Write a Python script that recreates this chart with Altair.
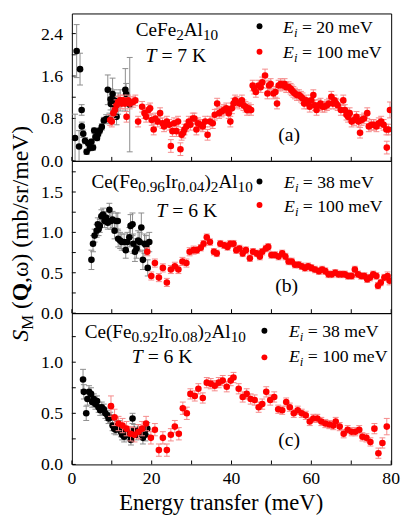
import altair as alt
import pandas as pd

FONT = "Liberation Serif"

# ---------------- data: (energy transfer meV, S_M, error) ----------------
A_E20 = [(0.8,0.43,0.45),(1.2,2.07,0.5),(1.8,0.27,0.3),(2.05,1.73,0.3),(2.45,0.96,0.1),
         (2.5,0.65,0.08),(2.85,0.51,0.07),(3.3,0.38,0.06),(3.7,0.17,0.05),(4.1,0.33,0.05),
         (4.5,0.24,0.05),(4.9,0.36,0.05),(5.3,0.25,0.05),(5.6,0.57,0.05),(5.9,0.45,0.05),
         (6.3,0.43,0.05),(6.6,0.51,0.05),(7.0,0.57,0.05),(7.5,0.64,0.06),(8.0,0.76,0.06),
         (8.6,0.79,0.08),(9.0,1.34,0.28),(9.4,0.80,0.1),(9.7,1.16,0.2),(9.8,1.07,0.25),
         (10.2,1.26,0.3),(10.6,1.14,0.2),(10.8,1.02,0.2),(11.2,0.83,0.15),(11.6,1.08,0.2),
         (12.1,1.14,0.2),(13.4,1.34,0.4),(13.6,1.26,0.2),(14.5,1.06,0.89)]

A_E100 = [(9.6,0.77,0.1),(10.0,0.74,0.1),(10.4,0.90,0.1),(10.8,0.96,0.1),(11.2,1.05,0.1),
          (11.6,1.11,0.1),(12.1,1.14,0.1),(12.5,1.08,0.1),(12.9,1.14,0.1),(13.3,1.08,0.1),
          (13.7,0.83,0.1),(14.1,1.14,0.1),(14.5,1.08,0.1),(15.3,1.11,0.1),(15.9,1.14,0.1),
          (16.6,0.74,0.1),(17.6,1.02,0.1),(18.2,0.90,0.1),(18.6,0.83,0.1),(19.2,0.96,0.1),
          (19.6,0.99,0.1),(20.0,0.77,0.1),(20.5,0.59,0.1),(20.9,0.80,0.1),(21.5,0.74,0.1),
          (22.1,0.90,0.1),(22.7,0.71,0.1),(23.1,0.65,0.1),(23.8,0.74,0.1),(24.4,0.68,0.1),
          (24.8,0.28,0.12),(25.2,0.56,0.1),(25.6,0.71,0.1),(26.2,0.56,0.1),(26.6,0.74,0.1),
          (27.2,0.22,0.12),(27.5,0.49,0.1),(27.9,0.53,0.1),(28.2,0.59,0.1),(28.7,0.65,0.1),
          (29.3,0.74,0.1),(29.7,0.68,0.1),(30.3,0.80,0.1),(30.7,0.80,0.1),(31.2,0.59,0.1),
          (31.6,0.71,0.1),(32.2,0.68,0.1),(32.8,0.65,0.1),(33.4,0.74,0.1),(34.0,0.49,0.1),
          (34.6,0.74,0.1),(35.3,0.71,0.1),(35.8,0.87,0.1),(36.4,1.08,0.1),(36.9,0.90,0.1),
          (37.5,0.93,0.1),(38.1,0.96,0.1),(38.7,0.99,0.1),(39.3,0.90,0.1),(39.7,0.74,0.1),
          (40.1,0.99,0.1),(40.5,1.08,0.1),(40.9,1.14,0.1),(41.3,1.11,0.1),(42.0,1.08,0.1),
          (42.6,1.14,0.1),(43.0,1.05,0.1),(43.5,1.02,0.1),(43.9,0.96,0.1),(44.3,0.99,0.1),
          (44.9,0.96,0.1),(45.3,1.42,0.1),(45.7,1.36,0.1),(46.1,1.30,0.1),(46.8,1.42,0.1),
          (47.3,1.39,0.1),(47.7,1.48,0.1),(48.4,1.61,0.12),(49.0,1.27,0.1),(49.4,1.42,0.1),
          (49.8,1.45,0.1),(50.5,1.27,0.1),(51.0,1.30,0.1),(51.4,1.08,0.1),(51.8,1.42,0.1),
          (52.3,1.45,0.1),(52.8,1.42,0.1),(53.3,1.45,0.1),(53.7,1.39,0.1),(54.3,1.39,0.1),
          (54.8,1.36,0.1),(55.1,1.33,0.1),(55.5,1.30,0.1),(55.9,1.27,0.1),(56.4,1.24,0.1),
          (56.9,1.24,0.1),(57.4,1.21,0.1),(57.8,1.18,0.1),(58.2,1.08,0.1),(58.7,1.14,0.1),
          (59.2,1.08,0.1),(59.6,1.02,0.1),(60.0,1.14,0.1),(60.5,1.24,0.1),(60.9,1.05,0.1),
          (61.3,0.96,0.1),(61.9,1.05,0.1),(62.3,1.08,0.1),(62.8,1.02,0.1),(63.3,1.02,0.1),
          (63.9,1.05,0.1),(64.4,1.08,0.1),(65.0,1.21,0.1),(65.4,1.08,0.1),(65.8,1.14,0.1),
          (66.2,1.08,0.1),(66.6,1.05,0.1),(67.4,0.96,0.1),(68.0,1.14,0.1),(68.4,0.96,0.1),
          (68.8,0.87,0.1),(69.2,0.83,0.1),(69.6,0.90,0.1),(70.1,0.74,0.1),(70.7,0.77,0.1),
          (71.3,0.83,0.1),(71.8,0.74,0.1),(72.2,0.53,0.1),(72.6,0.77,0.1),(73.2,0.80,0.1),
          (74.0,0.90,0.1),(74.4,0.65,0.1),(75.1,0.68,0.1),(75.6,0.68,0.1),(76.3,0.65,0.1),
          (76.9,0.71,0.1),(77.5,0.74,0.1),(78.1,0.68,0.1),(78.8,0.59,0.1),(78.9,0.25,0.12),
          (79.3,0.59,0.1),(79.7,0.96,0.15)]

B_E38 = [(4.9,0.66,0.12),(5.3,0.86,0.1),(5.7,0.96,0.08),(6.2,1.02,0.08),(6.5,1.10,0.08),
         (6.7,1.04,0.08),(7.0,1.08,0.08),(7.4,1.20,0.08),(7.8,1.22,0.08),(8.2,1.14,0.08),
         (8.6,1.18,0.08),(9.0,1.12,0.08),(9.4,1.28,0.08),(9.8,1.14,0.1),(10.2,1.16,0.1),
         (10.7,1.02,0.1),(11.1,1.14,0.1),(11.5,1.14,0.1),(11.6,0.92,0.1),(12.1,0.90,0.1),
         (12.5,0.88,0.1),(13.1,0.88,0.1),(13.5,0.78,0.1),(13.9,0.88,0.12),(14.4,0.94,0.12),
         (14.7,1.08,0.14),(15.2,1.10,0.14),(15.4,0.86,0.12),(15.8,0.76,0.12),(16.2,0.80,0.12),
         (16.6,0.90,0.12),(17.0,0.88,0.12),(17.4,1.06,0.18),(17.8,0.66,0.12),(18.2,0.86,0.12),
         (18.6,0.84,0.12),(19.0,0.56,0.1),(19.4,0.88,0.12)]

B_E100 = [(18.9,0.76,0.05),(19.9,0.46,0.05),(20.8,0.62,0.05),(21.8,0.44,0.05),(22.8,0.56,0.05),
          (23.8,0.38,0.05),(24.8,0.54,0.05),(25.8,0.58,0.05),(26.7,0.54,0.05),(27.7,0.64,0.05),
          (28.7,0.62,0.05),(29.5,0.76,0.05),(30.5,0.78,0.05),(31.3,0.78,0.04),(32.3,0.81,0.04),
          (33.0,0.86,0.04),(33.8,0.94,0.04),(34.6,0.88,0.04),(35.6,0.76,0.04),(36.3,0.74,0.04),
          (37.2,0.86,0.04),(38.2,0.84,0.04),(39.0,0.82,0.04),(39.7,0.86,0.04),(40.5,0.86,0.04),
          (41.2,0.78,0.04),(42.0,0.80,0.04),(42.8,0.74,0.04),(43.6,0.78,0.04),(44.6,0.68,0.04),
          (45.4,0.76,0.04),(46.3,0.74,0.04),(47.1,0.70,0.04),(47.7,0.76,0.04),(48.6,0.80,0.04),
          (49.2,0.82,0.04),(50.0,0.72,0.04),(50.9,0.72,0.04),(51.8,0.70,0.04),(52.7,0.74,0.04),
          (53.5,0.70,0.04),(54.3,0.64,0.04),(55.1,0.64,0.04),(55.9,0.60,0.04),(56.8,0.60,0.04),
          (57.6,0.58,0.04),(58.4,0.56,0.04),(59.2,0.58,0.04),(60.0,0.56,0.04),(60.9,0.54,0.04),
          (61.9,0.52,0.04),(62.7,0.54,0.04),(63.5,0.52,0.04),(64.3,0.48,0.04),(65.1,0.48,0.04),
          (66.0,0.50,0.04),(66.8,0.48,0.04),(67.6,0.48,0.04),(68.4,0.48,0.04),(69.2,0.46,0.04),
          (70.1,0.46,0.04),(70.9,0.54,0.04),(71.7,0.48,0.04),(72.5,0.46,0.04),(73.3,0.46,0.04),
          (74.0,0.42,0.04),(74.7,0.44,0.04),(75.5,0.48,0.04),(76.3,0.46,0.04),(76.7,0.34,0.04),
          (77.4,0.38,0.04),(78.3,0.44,0.04),(79.1,0.46,0.05),(79.6,0.40,0.05)]

C_E38 = [(2.8,0.83,0.1),(3.0,0.71,0.07),(3.6,0.50,0.07),(3.9,0.64,0.06),(4.3,0.71,0.06),
         (4.8,0.69,0.06),(5.1,0.61,0.05),(5.5,0.64,0.05),(5.9,0.59,0.05),(6.3,0.62,0.05),
         (6.7,0.56,0.05),(7.1,0.53,0.05),(7.5,0.56,0.05),(8.0,0.54,0.05),(8.4,0.50,0.05),
         (8.9,0.48,0.05),(9.2,0.45,0.05),(9.6,0.46,0.05),(10.2,0.38,0.05),(10.6,0.35,0.05),
         (11.0,0.34,0.05),(11.4,0.37,0.05),(11.8,0.38,0.05),(12.3,0.32,0.05),(12.6,0.29,0.05),
         (13.1,0.27,0.05),(13.7,0.32,0.05),(14.1,0.29,0.05),(14.8,0.24,0.05),(15.2,0.45,0.05),
         (15.6,0.34,0.05),(16.2,0.29,0.05),(16.6,0.34,0.05),(17.2,0.30,0.05),(17.8,0.26,0.06),
         (18.4,0.29,0.06),(18.9,0.35,0.06)]

C_E100 = [(9.8,0.57,0.1),(10.7,0.46,0.08),(11.7,0.40,0.07),(12.7,0.38,0.07),(13.7,0.35,0.07),
          (14.7,0.30,0.07),(15.7,0.29,0.07),(16.7,0.32,0.07),(17.6,0.35,0.07),(18.6,0.40,0.07),
          (19.8,0.26,0.06),(20.8,0.34,0.06),(21.8,0.14,0.06),(22.8,0.26,0.06),(23.8,0.14,0.06),
          (24.8,0.29,0.06),(25.8,0.37,0.06),(26.8,0.30,0.06),(27.8,0.55,0.06),(28.8,0.50,0.06),
          (29.7,0.69,0.05),(30.8,0.67,0.05),(31.7,0.74,0.05),(32.8,0.65,0.05),(33.8,0.80,0.05),
          (34.8,0.79,0.05),(35.8,0.77,0.05),(36.8,0.80,0.05),(37.8,0.82,0.05),(38.8,0.76,0.05),
          (39.8,0.82,0.05),(40.5,0.85,0.05),(41.8,0.74,0.05),(42.8,0.66,0.05),(43.8,0.69,0.05),
          (44.8,0.64,0.05),(45.8,0.63,0.05),(46.8,0.56,0.05),(47.7,0.59,0.05),(48.7,0.71,0.05),
          (49.7,0.63,0.05),(50.7,0.66,0.05),(51.7,0.54,0.04),(52.7,0.53,0.04),(53.7,0.61,0.04),
          (54.6,0.56,0.04),(55.6,0.50,0.04),(56.6,0.53,0.04),(57.6,0.50,0.04),(58.6,0.48,0.04),
          (59.6,0.42,0.04),(60.5,0.45,0.04),(61.5,0.45,0.04),(62.5,0.42,0.04),(63.5,0.40,0.04),
          (64.5,0.39,0.04),(65.5,0.38,0.04),(66.1,0.42,0.04),(67.1,0.37,0.04),(68.1,0.30,0.04),
          (69.1,0.34,0.04),(70.1,0.32,0.04),(71.0,0.32,0.04),(72.0,0.34,0.04),(72.8,0.27,0.04),
          (73.8,0.26,0.04),(74.8,0.22,0.04),(75.8,0.35,0.05),(76.8,0.11,0.05),(77.8,0.21,0.05),
          (78.9,0.37,0.08)]

X_TICKS = [0, 10, 20, 30, 40, 50, 60, 70, 80]
X_LABELS = [0, 20, 40, 60, 80]
A_MAJOR = [0.0, 0.8, 1.6, 2.4]
A_MINOR = [0.4, 1.2, 2.0]
B_MAJOR = [0.0, 0.5, 1.0, 1.5]
B_MINOR = [0.25, 0.75, 1.25, 1.75]
C_MAJOR = [0.0, 0.5, 1.0]
C_MINOR = [0.25, 0.75, 1.25]

BLACK = "#000000"
RED = "#FF0000"
BLACK_ERR = "#8C8C8C"
RED_ERR = "#F58A8A"

W = 325
DUMMY = pd.DataFrame({"a": [0]})

# Times-compatible advance widths (per 1000 em)
REG = {' ': 250, '(': 333, ')': 333, ',': 250, '.': 250, '/': 278, '=': 564,
       'A': 722, 'C': 667, 'E': 611, 'F': 556, 'I': 333, 'K': 722, 'M': 889, 'Q': 722,
       'S': 556, 'T': 611, 'V': 722, 'a': 444, 'b': 500, 'c': 444, 'e': 444, 'i': 278,
       'l': 278, 'm': 778, 'r': 333, 's': 389, 'ω': 686}
ITAL = {'E': 611, 'T': 556, 'S': 500, 'i': 278}
BOLD = {'Q': 778}


def adv(txt, kind, fs):
    tab = ITAL if 'i' in kind else (BOLD if 'b' in kind else REG)
    return sum(tab.get(ch, REG.get(ch, 500)) for ch in txt) * fs / 1000.0


def tmark(txt, x, y, fs, style="normal", weight="normal", angle=0, align="left"):
    return alt.Chart(DUMMY).mark_text(
        text=txt, font=FONT, fontSize=fs, fontStyle=style, fontWeight=weight,
        align=align, baseline="alphabetic", color="black", angle=angle,
    ).encode(x=alt.value(x), y=alt.value(y))


def chain(pieces, x0, y0, size, subsize, shift, vertical=False):
    out = []
    pos = x0 if not vertical else y0
    for txt, kind in pieces:
        fs = subsize if 's' in kind else size
        d = shift if 's' in kind else 0
        style = "italic" if 'i' in kind else "normal"
        weight = "bold" if 'b' in kind else "normal"
        lead = len(txt) - len(txt.lstrip(" "))
        step = lead * REG[' '] * fs / 1000.0
        body = txt.strip(" ")
        pos = pos - step if vertical else pos + step
        if vertical:
            out.append(tmark(body, x0 + d, pos, fs, style, weight, angle=270))
            pos -= adv(body, kind, fs)
        else:
            out.append(tmark(body, pos, y0 + d, fs, style, weight))
            pos += adv(body, kind, fs)
    return out


def frame(rows):
    d = pd.DataFrame(rows, columns=["E", "v", "err"])
    d["lo"] = d["v"] - d["err"]
    d["hi"] = d["v"] + d["err"]
    return d


def series(rows, color, ecolor, xs, ys):
    d = frame(rows)
    X = alt.X("E:Q", scale=xs, axis=None)
    base = alt.Chart(d)
    err = base.mark_rule(color=ecolor, strokeWidth=1, clip=True).encode(
        x=X, y=alt.Y("lo:Q", scale=ys, axis=None), y2="hi:Q")
    cap_lo = base.mark_point(shape="M-1,0L1,0", size=36, filled=False, stroke=ecolor,
                             strokeWidth=1, opacity=1, clip=True).encode(
        x=X, y=alt.Y("lo:Q", scale=ys, axis=None))
    cap_hi = base.mark_point(shape="M-1,0L1,0", size=36, filled=False, stroke=ecolor,
                             strokeWidth=1, opacity=1, clip=True).encode(
        x=X, y=alt.Y("hi:Q", scale=ys, axis=None))
    pts = base.mark_circle(size=45, color=color, opacity=1, clip=True).encode(
        x=X, y=alt.Y("v:Q", scale=ys, axis=None))
    return [err, cap_lo, cap_hi], pts


def legend(x_dot, y1, y2, x_txt, b1, b2, lbl1):
    out = [
        alt.Chart(DUMMY).mark_circle(size=36, color=BLACK, opacity=1).encode(
            x=alt.value(x_dot), y=alt.value(y1)),
        alt.Chart(DUMMY).mark_circle(size=36, color=RED, opacity=1).encode(
            x=alt.value(x_dot), y=alt.value(y2)),
    ]
    out += chain([("E", "i"), ("i", "si"), (" = " + lbl1 + " meV", "n")], x_txt, b1, 18, 13, 4)
    out += chain([("E", "i"), ("i", "si"), (" = 100 meV", "n")], x_txt, b2, 18, 13, 4)
    return out


def guides(majors, minors, xs, ys, h, bottom):
    """Inward ticks and tick labels, drawn through the panel's own scales."""
    yt = pd.DataFrame({"t": majors + minors})
    yl = pd.DataFrame({"t": majors, "lab": [f"{m:.1f}" for m in majors]})
    xt = pd.DataFrame({"t": X_TICKS})
    out = [
        alt.Chart(yt).mark_rule(color="black", strokeWidth=1).encode(
            y=alt.Y("t:Q", scale=ys, axis=None), x=alt.value(0), x2=alt.value(4)),
        alt.Chart(yl).mark_text(font=FONT, fontSize=18, align="right", baseline="alphabetic",
                                dy=6, color="black").encode(
            y=alt.Y("t:Q", scale=ys, axis=None), x=alt.value(-9), text="lab:N"),
        alt.Chart(xt).mark_rule(color="black", strokeWidth=1).encode(
            x=alt.X("t:Q", scale=xs, axis=None), y=alt.value(h - 4), y2=alt.value(h)),
    ]
    if bottom:
        xl = pd.DataFrame({"t": X_LABELS, "lab": [str(v) for v in X_LABELS]})
        out.append(alt.Chart(xl).mark_text(font=FONT, fontSize=18, align="center",
                                           baseline="alphabetic", color="black").encode(
            x=alt.X("t:Q", scale=xs, axis=None), y=alt.value(h + 20), text="lab:N"))
        out.append(tmark("Energy transfer (meV)", 152, h + 46, 23, align="center"))
    return out


def panel(black, red, ymax, h, majors, minors, extra, bottom):
    xs = alt.Scale(domain=[0, 80], nice=False, zero=False)
    ys = alt.Scale(domain=[0, ymax], nice=False, zero=False)
    b_err, b_pts = series(black, BLACK, BLACK_ERR, xs, ys)
    r_err, r_pts = series(red, RED, RED_ERR, xs, ys)
    layers = guides(majors, minors, xs, ys, h, bottom) + b_err + [b_pts] + r_err + [r_pts] + extra
    return alt.layer(*layers).properties(width=W, height=h)


# ---------------- annotations (pixel positions inside each panel) ----------------
ann_a = (chain([("CeFe", "n"), ("2", "s"), ("Al", "n"), ("10", "s")], 65, 23, 19.5, 15.5, 4)
         + chain([("T", "i"), (" = 7 K", "n")], 75, 49, 20, 15, 0)
         + [tmark("(a)", 210, 130, 20)]
         + legend(191, 13, 39, 215, 20, 45, "20"))

ann_b = (chain([("Ce(Fe", "n"), ("0.96", "s"), ("Ir", "n"), ("0.04", "s"), (")", "n"),
                ("2", "s"), ("Al", "n"), ("10", "s")], 20, 28, 19.5, 15.5, 4)
         + chain([("T", "i"), (" = 6 K", "n")], 86, 57, 20, 15, 0)
         + [tmark("(b)", 207, 134, 20)]
         + legend(191, 21, 45, 216, 28, 52, "38")
         + chain([("S", "i"), ("M", "s"), (" (", "n"), ("Q", "b"), (",ω) (mb/sr/meV)", "n")],
                 -45, 184, 24, 17, 5, vertical=True))

ann_c = (chain([("Ce(Fe", "n"), ("0.92", "s"), ("Ir", "n"), ("0.08", "s"), (")", "n"),
                ("2", "s"), ("Al", "n"), ("10", "s")], 13, 25, 19.5, 15.5, 4)
         + chain([("T", "i"), (" = 6 K", "n")], 61, 51, 20, 15, 0)
         + [tmark("(c)", 210, 135, 20)]
         + legend(196, 18, 45, 221, 24, 50, "38"))

pa = panel(A_E20, A_E100, 2.78, 150, A_MAJOR, A_MINOR, ann_a, False)
pb = panel(B_E38, B_E100, 1.886, 155, B_MAJOR, B_MINOR, ann_b, False)
pc = panel(C_E38, C_E100, 1.48, 154, C_MAJOR, C_MINOR, ann_c, True)

chart = alt.vconcat(pa, pb, pc, spacing=0, bounds="flush").properties(
    padding={"left": 0, "top": 0, "right": 0, "bottom": 0}
).configure_view(stroke="black", strokeWidth=1)

chart.save("out.html", embed_options={"renderer": "svg", "actions": False})
